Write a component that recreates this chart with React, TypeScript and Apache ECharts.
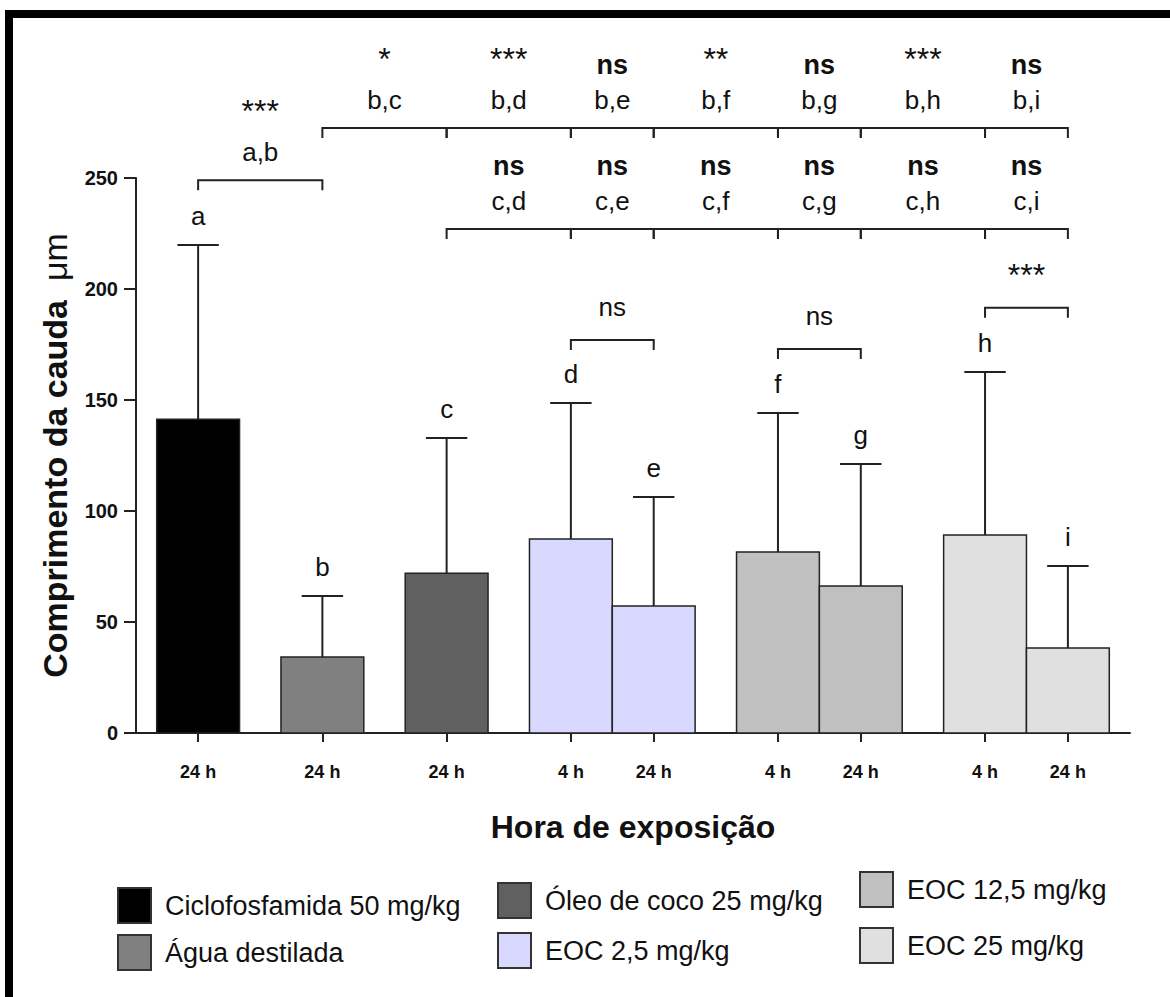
import React, { useEffect, useRef } from "react";
import * as echarts from "echarts";

// ---- data ----
const groupLetters = ["a", "b", "c", "d", "e", "f", "g", "h", "i"];
const barPositions = [0, 1.5, 3, 4.5, 5.5, 7, 8, 9.5, 10.5];
const hourLabels = ["24 h", "24 h", "24 h", "4 h", "24 h", "4 h", "24 h", "4 h", "24 h"];
const meanValues = [141.3, 34.2, 72, 87.4, 57.2, 81.5, 66.2, 89.2, 38.3];
const errorTops = [219.8, 61.7, 132.9, 148.6, 106.3, 144.1, 121.2, 162.6, 75.2];
const barColors = ["#000000", "#808080", "#606060", "#d9d9ff", "#d9d9ff", "#c0c0c0", "#c0c0c0", "#e0e0e0", "#e0e0e0"];

const bracketFrom = [0, 1, 2, 3, 4, 5, 6, 7, 2, 3, 4, 5, 6, 7, 3, 5, 7];
const bracketTo = [1, 2, 3, 4, 5, 6, 7, 8, 3, 4, 5, 6, 7, 8, 4, 6, 8];
const bracketLevels = [249, 272.5, 272.5, 272.5, 272.5, 272.5, 272.5, 272.5, 227, 227, 227, 227, 227, 227, 177, 173, 191.5];
const bracketPairs = ["a,b", "b,c", "b,d", "b,e", "b,f", "b,g", "b,h", "b,i", "c,d", "c,e", "c,f", "c,g", "c,h", "c,i", "", "", ""];
const bracketSigs = ["***", "*", "***", "ns", "**", "ns", "***", "ns", "ns", "ns", "ns", "ns", "ns", "ns", "ns", "ns", "***"];

const yTicks = [0, 50, 100, 150, 200, 250];

const legendNames = ["Ciclofosfamida 50 mg/kg", "Água destilada", "Óleo de coco 25 mg/kg", "EOC 2,5 mg/kg", "EOC 12,5 mg/kg", "EOC 25 mg/kg"];
const legendColors = ["#000000", "#808080", "#606060", "#d9d9ff", "#c0c0c0", "#e0e0e0"];

// ---- layout / style ----
const FONT = 'Arial, "Liberation Sans", Helvetica, sans-serif';
const INK = "#111111";
const LINE = "#222222";
const legendSlots = [
  [118, 888],
  [118, 935],
  [498, 883],
  [498, 933],
  [860, 872],
  [860, 928],
];

export default function App() {
  const ref = useRef<HTMLDivElement>(null);

  useEffect(() => {
    if (!ref.current) return;
    const chart = echarts.init(ref.current, null, { renderer: "svg" });

    const barData = barPositions.map((p, i) => [p, meanValues[i], errorTops[i], i]);
    const bracketData = bracketFrom.map((f, i) => [barPositions[f], barPositions[bracketTo[i]], bracketLevels[i], i]);

    const legendGraphics: any[] = [];
    legendNames.forEach((name, i) => {
      const [x, y] = legendSlots[i];
      legendGraphics.push({
        type: "rect",
        shape: { x, y, width: 33, height: 35 },
        style: { fill: legendColors[i], stroke: "#333", lineWidth: 2 },
      });
      legendGraphics.push({
        type: "text",
        x: x + 47,
        y: y + 18,
        style: {
          text: name,
          fontSize: 27,
          fontFamily: FONT,
          fill: INK,
          align: "left",
          verticalAlign: "middle",
        },
      });
    });

    const option: any = {
      animation: false,
      backgroundColor: "#ffffff",
      grid: { left: 136, top: 178, width: 994, height: 555, containLabel: false },
      xAxis: {
        type: "value",
        min: -0.75,
        max: 11.25,
        name: "Hora de exposição",
        nameLocation: "middle",
        nameGap: 78,
        nameTextStyle: { fontSize: 32, fontWeight: "bold", fontFamily: FONT, color: INK },
        axisLine: { show: true, onZero: false, lineStyle: { color: LINE, width: 2 } },
        axisTick: { show: true, length: 9, customValues: barPositions, lineStyle: { color: LINE, width: 2 } },
        axisLabel: {
          customValues: barPositions,
          margin: 30,
          fontSize: 18,
          fontWeight: "bold",
          fontFamily: FONT,
          color: INK,
          formatter: (v: number) => {
            const k = barPositions.findIndex((p) => Math.abs(p - v) < 1e-6);
            return k >= 0 ? hourLabels[k] : "";
          },
        },
        splitLine: { show: false },
      },
      yAxis: {
        type: "value",
        min: 0,
        max: 250,
        interval: 50,
        name: "{b|Comprimento da cauda}{r|  μm}",
        nameLocation: "middle",
        nameRotate: 90,
        nameGap: 64,
        nameTextStyle: {
          rich: {
            b: { fontSize: 34, fontWeight: "bold", fontFamily: FONT, color: INK },
            r: { fontSize: 34, fontWeight: "normal", fontFamily: FONT, color: INK },
          },
        },
        axisLine: { show: true, onZero: false, lineStyle: { color: LINE, width: 2 } },
        axisTick: { show: true, length: 12, lineStyle: { color: LINE, width: 2 } },
        axisLabel: {
          margin: 18,
          fontSize: 20,
          fontWeight: "bold",
          fontFamily: FONT,
          color: INK,
          customValues: yTicks,
        },
        splitLine: { show: false },
      },
      graphic: [
        { type: "rect", shape: { x: 5, y: 10, width: 1165, height: 8 }, style: { fill: "#000" } },
        { type: "rect", shape: { x: 5, y: 10, width: 8, height: 987 }, style: { fill: "#000" } },
        ...legendGraphics,
      ],
      series: [
        {
          type: "custom",
          name: "bars",
          clip: false,
          data: barData,
          encode: { x: 0, y: [1, 2] },
          renderItem: (params: any, api: any) => {
            const x = api.value(0);
            const m = api.value(1);
            const e = api.value(2);
            const idx = api.value(3);
            const tl = api.coord([x - 0.5, m]);
            const br = api.coord([x + 0.5, 0]);
            const mid = api.coord([x, m]);
            const top = api.coord([x, e]);
            const capL = api.coord([x - 0.25, e]);
            const capR = api.coord([x + 0.25, e]);
            return {
              type: "group",
              children: [
                {
                  type: "rect",
                  shape: { x: tl[0], y: tl[1], width: br[0] - tl[0], height: br[1] - tl[1] },
                  style: { fill: barColors[idx], stroke: LINE, lineWidth: 1.5 },
                },
                {
                  type: "line",
                  shape: { x1: mid[0], y1: mid[1], x2: top[0], y2: top[1] },
                  style: { stroke: LINE, lineWidth: 2 },
                },
                {
                  type: "line",
                  shape: { x1: capL[0], y1: capL[1], x2: capR[0], y2: capR[1] },
                  style: { stroke: LINE, lineWidth: 2 },
                },
                {
                  type: "text",
                  style: {
                    text: groupLetters[idx],
                    x: top[0],
                    y: top[1] - 29,
                    align: "center",
                    verticalAlign: "middle",
                    fontSize: 26,
                    fontFamily: FONT,
                    fill: INK,
                  },
                },
              ],
            };
          },
        },
        {
          type: "custom",
          name: "brackets",
          clip: false,
          data: bracketData,
          encode: { x: [0, 1], y: 2 },
          renderItem: (params: any, api: any) => {
            const i = api.value(3);
            const p1 = api.coord([api.value(0), api.value(2)]);
            const p2 = api.coord([api.value(1), api.value(2)]);
            const cx = (p1[0] + p2[0]) / 2;
            const pair = bracketPairs[i];
            const sig = bracketSigs[i];
            const isStar = sig.indexOf("*") >= 0;
            const children: any[] = [
              {
                type: "polyline",
                shape: {
                  points: [
                    [p1[0], p1[1] + 10],
                    [p1[0], p1[1]],
                    [p2[0], p2[1]],
                    [p2[0], p2[1] + 10],
                  ],
                },
                style: { stroke: LINE, lineWidth: 2, fill: "none" },
              },
            ];
            if (pair) {
              children.push({
                type: "text",
                style: {
                  text: pair,
                  x: cx,
                  y: p1[1] - 28,
                  align: "center",
                  verticalAlign: "middle",
                  fontSize: 26,
                  fontFamily: FONT,
                  fill: INK,
                },
              });
            }
            const offset = pair ? (isStar ? 69 : 63) : 33;
            children.push({
              type: "text",
              style: {
                text: sig,
                x: cx,
                y: p1[1] - offset,
                align: "center",
                verticalAlign: "middle",
                fontSize: isStar ? 32 : pair ? 27 : 26,
                fontWeight: !isStar && pair ? "bold" : "normal",
                fontFamily: FONT,
                fill: INK,
              },
            });
            return { type: "group", children };
          },
        },
      ],
    };

    chart.setOption(option);
    return () => chart.dispose();
  }, []);

  return (
    <div
      ref={ref}
      style={{ position: "absolute", left: 0, top: 0, width: 1170, height: 997, background: "#fff" }}
    />
  );
}
